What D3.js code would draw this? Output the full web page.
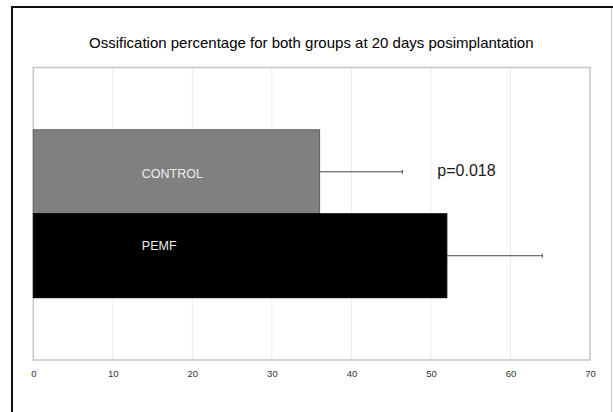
<!DOCTYPE html>
<html>
<head>
<meta charset="utf-8">
<script src="https://cdn.jsdelivr.net/npm/d3@7"></script>
<style>
  html, body { margin: 0; padding: 0; background: #fff; }
  svg { display: block; font-family: "Liberation Sans", Arial, sans-serif; }
</style>
</head>
<body>
<svg id="chart" width="613" height="412"></svg>
<script>
// ---- data ----
const title = "Ossification percentage for both groups at 20 days posimplantation";
const categories = ["CONTROL", "PEMF"];
const means = [36, 52];
const errors = [10.4, 12];
const barColors = ["#808080", "#000000"];
const xTicks = [0, 10, 20, 30, 40, 50, 60, 70];
const annotation = "p=0.018";

// ---- layout ----
const W = 613, H = 412;
const svg = d3.select("#chart");

const x = d3.scaleLinear().domain([0, 70]).range([33.3, 590]);
const y = d3.scaleBand().domain(categories).range([67.5, 360]).paddingInner(0).paddingOuter(0.742);

// outer frame
svg.append("rect").attr("x", 0).attr("y", 0).attr("width", W).attr("height", H).attr("fill", "#fff");
svg.append("line").attr("x1", 611.5).attr("x2", 611.5).attr("y1", 7).attr("y2", H)
  .attr("stroke", "#c8c8c8").attr("stroke-width", 1);
svg.append("line").attr("x1", 11).attr("x2", W).attr("y1", 7).attr("y2", 7)
  .attr("stroke", "#111").attr("stroke-width", 2);
svg.append("line").attr("x1", 12).attr("x2", 12).attr("y1", 6).attr("y2", H)
  .attr("stroke", "#111").attr("stroke-width", 2);

// title
svg.append("text").attr("x", 311.3).attr("y", 47.7).attr("text-anchor", "middle")
  .attr("font-size", 15).attr("fill", "#000").text(title);

// gridlines
svg.append("g").selectAll("line").data(xTicks.filter(t => t > 0 && t < 70)).join("line")
  .attr("x1", d => x(d)).attr("x2", d => x(d))
  .attr("y1", y.range()[0]).attr("y2", y.range()[1])
  .attr("stroke", "#ebebeb").attr("stroke-width", 1);

// plot border
svg.append("rect")
  .attr("x", x(0)).attr("y", y.range()[0])
  .attr("width", x(70) - x(0)).attr("height", y.range()[1] - y.range()[0])
  .attr("fill", "none").attr("stroke", "#c6c6c6").attr("stroke-width", 1.5);

// bars
const rows = categories.map((c, i) => ({ c, v: means[i], e: errors[i], color: barColors[i], i }));
svg.append("g").selectAll("rect").data(rows).join("rect")
  .attr("x", x(0))
  .attr("y", d => y(d.c))
  .attr("width", d => x(d.v) - x(0))
  .attr("height", y.bandwidth())
  .attr("fill", d => d.color)
  .attr("stroke", d => d.i === 0 ? "#5e5e5e" : "#000")
  .attr("stroke-width", 1);

// error bars
const eg = svg.append("g").attr("stroke", "#4a4a4a").attr("stroke-width", 1);
eg.selectAll("line.err").data(rows).join("line").attr("class", "err")
  .attr("x1", d => x(d.v)).attr("x2", d => x(d.v + d.e))
  .attr("y1", d => y(d.c) + y.bandwidth() / 2).attr("y2", d => y(d.c) + y.bandwidth() / 2);
eg.selectAll("line.cap").data(rows).join("line").attr("class", "cap")
  .attr("x1", d => x(d.v + d.e)).attr("x2", d => x(d.v + d.e))
  .attr("y1", d => y(d.c) + y.bandwidth() / 2 - 2).attr("y2", d => y(d.c) + y.bandwidth() / 2 + 2);

// category labels inside bars
const labelDy = [6, -6];
svg.append("g").selectAll("text").data(rows).join("text")
  .attr("x", x(0) + 108.5)
  .attr("y", d => y(d.c) + y.bandwidth() / 2 + labelDy[d.i])
  .attr("font-size", 12.5)
  .attr("fill", "#eeeeee")
  .text(d => d.c);

// p-value annotation
svg.append("text")
  .attr("x", x(50.8))
  .attr("y", y(categories[0]) + y.bandwidth() / 2 + 4.5)
  .attr("font-size", 16).attr("fill", "#1a1a1a")
  .text(annotation);

// x axis (labels only)
const axis = d3.axisBottom(x).tickValues(xTicks).tickSize(0).tickPadding(10.5).tickFormat(d3.format("d"));
const ag = svg.append("g").attr("transform", `translate(0,${y.range()[1]})`).call(axis);
ag.select(".domain").remove();
ag.selectAll("text").attr("font-size", 9.5).attr("fill", "#333")
  .attr("font-family", "'Liberation Sans Narrow', 'Liberation Sans', Arial, sans-serif");
</script>
</body>
</html>
